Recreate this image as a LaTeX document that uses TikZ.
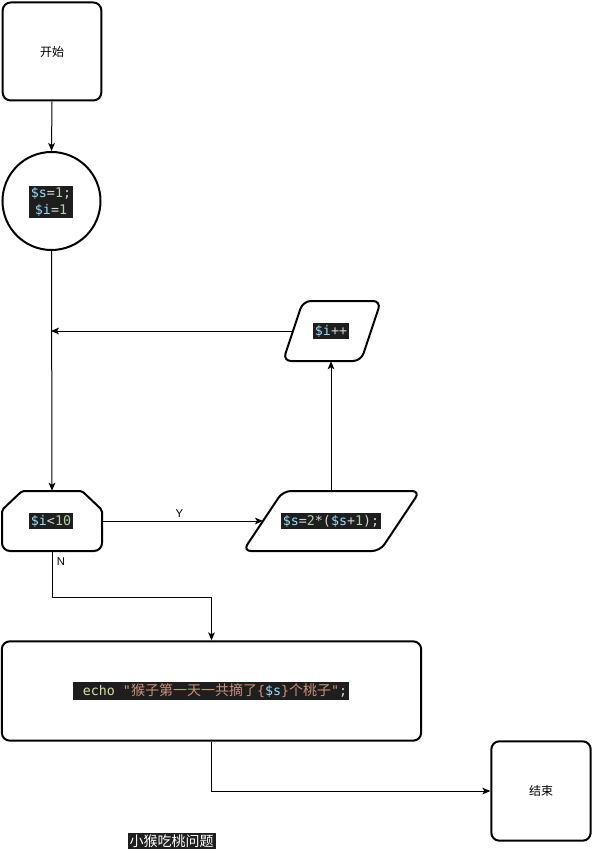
\documentclass[tikz,border=0pt]{standalone}
\usepackage{fontspec}
\setmainfont{Liberation Sans}
\newfontfamily\cjk{Noto Sans CJK SC}
\newfontfamily\codefont{DejaVu Sans Mono}
\usetikzlibrary{arrows.meta}
\definecolor{codebg}{HTML}{1E1E1E}
\definecolor{cvar}{HTML}{9CDCFE}
\definecolor{cnum}{HTML}{B5CEA8}
\definecolor{cop}{HTML}{D4D4D4}
\definecolor{cfn}{HTML}{DCDCAA}
\definecolor{cstr}{HTML}{CE9178}
\newcommand{\vv}[1]{\textcolor{cvar}{#1}}
\newcommand{\nn}[1]{\textcolor{cnum}{#1}}
\newcommand{\oo}[1]{\textcolor{cop}{#1}}
\begin{document}
\begin{tikzpicture}[x=0.75pt,y=-0.75pt,
  shapeline/.style={line width=1.5pt, rounded corners=6pt},
  box/.style={draw, shapeline, rectangle, font=\cjk\fontsize{9}{11}\selectfont},
  code/.style={fill=codebg, inner sep=1.3pt, font=\codefont\fontsize{10}{12.5}\selectfont, text=cop},
  holder/.style={rectangle, draw=none, inner sep=0pt},
  arr/.style={line width=0.75pt, -{Stealth[length=6pt,width=5pt,inset=1.5pt]}},
  lbl/.style={font=\fontsize{8.5}{10}\selectfont, inner sep=1pt}]
\useasboundingbox (0,0) rectangle (592,852);

% start
\node[box, minimum width=74pt, minimum height=73.5pt] (start) at (52,51.5) {开始};
% init circle
\node[draw, circle, line width=1.5pt, minimum size=73.5pt, inner sep=0pt] (init) at (51.5,201) {};
\node[code, align=center] (initTxt) at (51,202) {\vv{\$s}=\nn{1};\\\vv{\$i}=\nn{1}};

% i++ parallelogram
\node[holder, minimum width=75pt, minimum height=45pt] (inc) at (331,331) {};
\draw[shapeline] (303,301) -- (381,301) -- (361,361) -- (283,361) -- cycle;
\node[code] (incTxt) at (331,331) {\vv{\$i}++};
\coordinate (incL) at (293,331);
\coordinate (join) at (51,331);

% loop limit
\node[holder, minimum width=75pt, minimum height=45pt] (loop) at (52,521) {};
\draw[line width=1.5pt, rounded corners=1.5pt] (22,491) -- (82,491) -- (102,510)
  [rounded corners=6pt] -- (102,551) -- (2,551) [rounded corners=1.5pt] -- (2,510) -- cycle;
\node[code] (loopTxt) at (51,521) {\vv{\$i}<\nn{10}};

% calc parallelogram
\node[holder, minimum width=100pt, minimum height=45pt] (calc) at (331,521) {};
\draw[shapeline] (283,491) -- (420,491) -- (380,551) -- (243,551) -- cycle;
\node[code] (calcTxt) at (331,521) {\vv{\$s}=\nn{2}*(\vv{\$s}+\nn{1});};
\coordinate (calcL) at (263,521);

% echo box
\node[box, minimum width=314.5pt, minimum height=74.5pt] (echo) at (211.5,691) {};
\node[code] (echoTxt) at (211,691) {\ \textcolor{cfn}{echo} \textcolor{cstr}{"{\cjk\fontsize{10.5}{12.5}\selectfont 猴子第一天一共摘了}\{}\vv{\$s}\textcolor{cstr}{\}{\cjk\fontsize{10.5}{12.5}\selectfont 个桃子}"};};

% end
\node[box, minimum width=74.5pt, minimum height=74.5pt] (end) at (541,791) {结束};

% title
\node[fill=codebg, text=white, inner sep=1.5pt, font=\cjk\fontsize{10.5}{12}\selectfont] (title) at (171.5,841) {小猴吃桃问题};

% connectors
\draw[arr] (start.south) -- (init.north);
\draw[arr] (init.south) -- (loop.north);
\draw[arr] (incL) -- (join);
\draw[arr] (loop.east) -- node[lbl, above, pos=0.48, yshift=1pt] (ylbl) {Y} (calcL);
\draw[arr] (calc.north) -- (inc.south);
\draw[arr] (loop.south) -- ++(0,46) -| (echo.north);
\node[lbl] (nlbl) at (61,562) {N};
\draw[arr] (echo.south) |- (end.west);
\end{tikzpicture}
\end{document}
